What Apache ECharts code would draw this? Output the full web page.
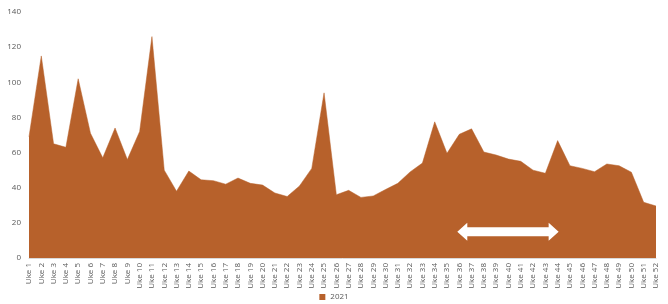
<!DOCTYPE html>
<html>
<head>
<meta charset="utf-8">
<script src="https://cdn.jsdelivr.net/npm/echarts@6/dist/echarts.min.js"></script>
<style>
html,body{margin:0;padding:0;background:#fff;}
#c{width:668px;height:304px;}
</style>
</head>
<body>
<div id="c"></div>
<script>
const categories = Array.from({length: 52}, (_, i) => 'Uke ' + (i + 1));
const seriesName = '2021';
const values2021 = [
  69, 115, 65, 63, 102, 71, 57, 74, 56, 72,
  126, 50, 38, 49.5, 44.5, 44, 42, 45.5, 42.5, 41.5,
  37, 35, 41, 51, 94, 36, 38.5, 34.5, 35.3, 39,
  42.5, 49, 54, 77.5, 59.6, 70.4, 73.5, 60.3, 58.6, 56.3,
  55, 50, 48.2, 66.8, 52.5, 51, 49.1, 53.5, 52.5, 48.8,
  31.7, 29.6
];
const yTicks = [0, 20, 40, 60, 80, 100, 120, 140];
// annotation arrow (data space)
const arrowFrom = 'Uke 36';
const arrowTo = 'Uke 44';
const arrowValue = 15;

const color = '#B7612B';
const chart = echarts.init(document.getElementById('c'));
chart.setOption({
  animation: false,
  textStyle: {fontFamily: 'Open Sans, Liberation Sans, sans-serif'},
  grid: {left: 29, right: 12, top: 12, bottom: 46},
  legend: {
    bottom: -2, left: 'center', icon: 'rect', itemWidth: 6, itemHeight: 6, itemGap: 4,
    textStyle: {fontSize: 8, color: '#595959'},
    data: [seriesName]
  },
  xAxis: {
    type: 'category', data: categories, boundaryGap: false,
    axisLine: {show: true, lineStyle: {color: '#d9d9d9'}},
    axisTick: {show: false},
    axisLabel: {rotate: 90, fontSize: 8, color: '#595959', margin: 5, interval: 0}
  },
  yAxis: {
    type: 'value', min: yTicks[0], max: yTicks[yTicks.length - 1], interval: 20,
    axisLine: {show: false}, axisTick: {show: false},
    splitLine: {show: false},
    axisLabel: {fontSize: 8, color: '#595959', margin: 8}
  },
  series: [{
    name: seriesName, type: 'line', data: values2021,
    symbol: 'none', lineStyle: {width: 0.5, color: color},
    itemStyle: {color: color},
    areaStyle: {color: color, opacity: 1}
  }]
});

const p1 = chart.convertToPixel({seriesIndex: 0}, [arrowFrom, arrowValue]);
const p2 = chart.convertToPixel({seriesIndex: 0}, [arrowTo, arrowValue]);
const x1 = p1[0] - 2, x2 = p2[0] + 1, y = p1[1];
const hl = 10, hh = 9, sh = 4.5;
chart.setOption({
  graphic: [{
    type: 'polygon',
    shape: {points: [
      [x1, y], [x1 + hl, y - hh], [x1 + hl, y - sh], [x2 - hl, y - sh], [x2 - hl, y - hh],
      [x2, y], [x2 - hl, y + hh], [x2 - hl, y + sh], [x1 + hl, y + sh], [x1 + hl, y + hh]
    ]},
    style: {fill: '#ffffff'},
    z: 100
  }]
});
</script>
</body>
</html>
